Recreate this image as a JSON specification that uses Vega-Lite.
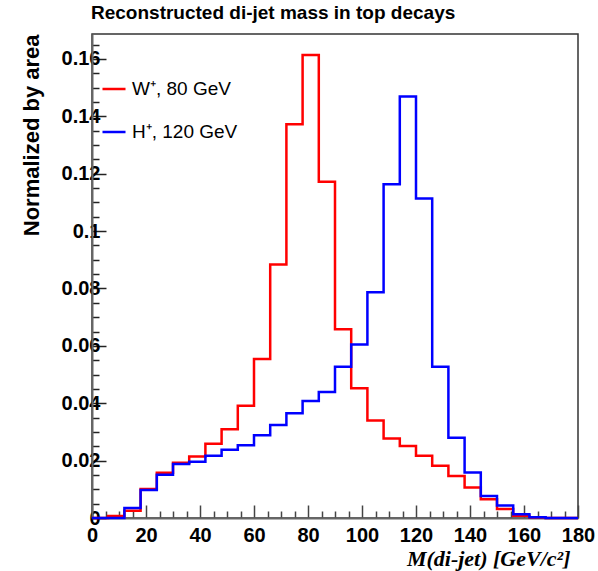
{
  "$schema": "https://vega.github.io/schema/vega-lite/v6.json",
  "width": 486,
  "height": 484,
  "autosize": "none",
  "padding": {"left": 92, "top": 34, "right": 20, "bottom": 53},
  "background": "white",
  "config": {
    "view": {"stroke": "#333", "strokeWidth": 1.5},
    "font": "Liberation Sans"
  },
  "title": {
    "text": "Reconstructed di-jet mass in top decays",
    "anchor": "start",
    "frame": "group",
    "dx": -1,
    "offset": 11,
    "font": "Liberation Sans",
    "fontSize": 19,
    "fontWeight": "bold",
    "color": "black"
  },
  "datasets": {
    "w": [
      {"mass": 0, "value": 0}, {"mass": 6, "value": 0.0007}, {"mass": 12, "value": 0.0025},
      {"mass": 18, "value": 0.0101}, {"mass": 24, "value": 0.0158}, {"mass": 30, "value": 0.0193},
      {"mass": 36, "value": 0.0214}, {"mass": 42, "value": 0.0259}, {"mass": 48, "value": 0.0309},
      {"mass": 54, "value": 0.0391}, {"mass": 60, "value": 0.0554}, {"mass": 66, "value": 0.0884},
      {"mass": 72, "value": 0.1372}, {"mass": 78, "value": 0.1614}, {"mass": 84, "value": 0.1172},
      {"mass": 90, "value": 0.0658}, {"mass": 96, "value": 0.0452}, {"mass": 102, "value": 0.034},
      {"mass": 108, "value": 0.0277}, {"mass": 114, "value": 0.0251}, {"mass": 120, "value": 0.0217},
      {"mass": 126, "value": 0.0182}, {"mass": 132, "value": 0.0146}, {"mass": 138, "value": 0.0106},
      {"mass": 144, "value": 0.0065}, {"mass": 150, "value": 0.0031}, {"mass": 156, "value": 0.0008},
      {"mass": 162, "value": 0.0002}, {"mass": 168, "value": 0}, {"mass": 174, "value": 0},
      {"mass": 180, "value": 0}
    ],
    "h": [
      {"mass": 0, "value": 0}, {"mass": 6, "value": 0}, {"mass": 12, "value": 0.0035},
      {"mass": 18, "value": 0.0098}, {"mass": 24, "value": 0.0151}, {"mass": 30, "value": 0.0188},
      {"mass": 36, "value": 0.0196}, {"mass": 42, "value": 0.0217}, {"mass": 48, "value": 0.0238},
      {"mass": 54, "value": 0.0254}, {"mass": 60, "value": 0.0288}, {"mass": 66, "value": 0.0324},
      {"mass": 72, "value": 0.0365}, {"mass": 78, "value": 0.0408}, {"mass": 84, "value": 0.0439},
      {"mass": 90, "value": 0.0527}, {"mass": 96, "value": 0.0605}, {"mass": 102, "value": 0.0787},
      {"mass": 108, "value": 0.1163}, {"mass": 114, "value": 0.1469}, {"mass": 120, "value": 0.1114},
      {"mass": 126, "value": 0.0527}, {"mass": 132, "value": 0.028}, {"mass": 138, "value": 0.0159},
      {"mass": 144, "value": 0.0077}, {"mass": 150, "value": 0.0044}, {"mass": 156, "value": 0.0013},
      {"mass": 162, "value": 0.0003}, {"mass": 168, "value": 0}, {"mass": 174, "value": 0},
      {"mass": 180, "value": 0}
    ]
  },
  "layer": [
    {
      "data": {"name": "h"},
      "mark": {"type": "point", "opacity": 0},
      "encoding": {
        "x": {
          "field": "mass", "type": "quantitative",
          "scale": {"domain": [0, 180], "nice": false, "zero": false},
          "axis": {
            "orient": "bottom",
            "values": [5, 10, 15, 25, 30, 35, 45, 50, 55, 65, 70, 75, 85, 90, 95, 105, 110, 115, 125, 130, 135, 145, 150, 155, 165, 170, 175],
            "labels": false, "title": null, "domain": false, "grid": false,
            "tickSize": -7, "tickWidth": 1.5, "tickColor": "#444"
          }
        },
        "y": {
          "field": "value", "type": "quantitative",
          "scale": {"domain": [0, 0.1687], "nice": false},
          "axis": {
            "orient": "left",
            "values": [0.005, 0.01, 0.015, 0.025, 0.03, 0.035, 0.045, 0.05, 0.055, 0.065, 0.07, 0.075, 0.085, 0.09, 0.095, 0.105, 0.11, 0.115, 0.125, 0.13, 0.135, 0.145, 0.15, 0.155, 0.165],
            "labels": false, "title": null, "domain": false, "grid": false,
            "tickSize": -7, "tickWidth": 1.5, "tickColor": "#222"
          }
        }
      }
    },
    {
      "data": {"name": "w"},
      "mark": {"type": "line", "interpolate": "step-after", "strokeWidth": 2.5},
      "encoding": {
        "x": {
          "field": "mass", "type": "quantitative",
          "axis": {
            "orient": "bottom",
            "values": [0, 20, 40, 60, 80, 100, 120, 140, 160, 180],
            "title": "M(di-jet) [GeV/c²]",
            "titleFont": "Liberation Serif",
            "titleFontStyle": "italic",
            "titleFontWeight": "bold",
            "titleFontSize": 22,
            "titleColor": "black",
            "titleAnchor": "end",
            "titleAlign": "right",
            "titleX": 478,
            "titleY": 47,
            "titleBaseline": "alphabetic",
            "labelFont": "Liberation Sans",
            "labelFontWeight": "bold",
            "labelFontSize": 20,
            "labelColor": "black",
            "labelPadding": 20,
            "labelFlush": false,
            "labelOverlap": false,
            "tickSize": -13,
            "tickWidth": 1.5,
            "tickColor": "#444",
            "domainColor": "#666",
            "domainWidth": 2,
            "grid": false
          }
        },
        "y": {
          "field": "value", "type": "quantitative",
          "axis": {
            "orient": "left",
            "values": [0, 0.02, 0.04, 0.06, 0.08, 0.1, 0.12, 0.14, 0.16],
            "format": "~g",
            "title": "Normalized by area",
            "titleFont": "Liberation Sans",
            "titleFontWeight": "bold",
            "titleFontSize": 22,
            "titleColor": "black",
            "titleAnchor": "end",
            "titlePadding": 18,
            "labelFont": "Liberation Sans",
            "labelFontWeight": "bold",
            "labelFontSize": 20,
            "labelColor": "black",
            "labelPadding": 6,
            "labelFlush": false,
            "labelOverlap": false,
            "tickSize": -14,
            "tickWidth": 1.5,
            "tickColor": "#222",
            "domainColor": "#666",
            "domainWidth": 2,
            "grid": false
          }
        },
        "color": {
          "datum": "W⁺, 80 GeV",
          "type": "nominal",
          "scale": {"domain": ["W⁺, 80 GeV", "H⁺, 120 GeV"], "range": ["#ff0000", "#0000ff"]},
          "legend": {
            "title": null,
            "orient": "none",
            "legendX": 9,
            "legendY": 42,
            "symbolType": "stroke",
            "symbolSize": 530,
            "symbolStrokeWidth": 2.5,
            "labelFont": "Liberation Sans",
            "labelFontSize": 19,
            "labelColor": "black",
            "labelOffset": 5,
            "rowPadding": 20
          }
        }
      }
    },
    {
      "data": {"name": "h"},
      "mark": {"type": "line", "interpolate": "step-after", "strokeWidth": 2.5},
      "encoding": {
        "x": {"field": "mass", "type": "quantitative", "axis": null},
        "y": {"field": "value", "type": "quantitative", "axis": null},
        "color": {"datum": "H⁺, 120 GeV", "type": "nominal"}
      }
    }
  ],
  "resolve": {"axis": {"x": "independent", "y": "independent"}}
}
